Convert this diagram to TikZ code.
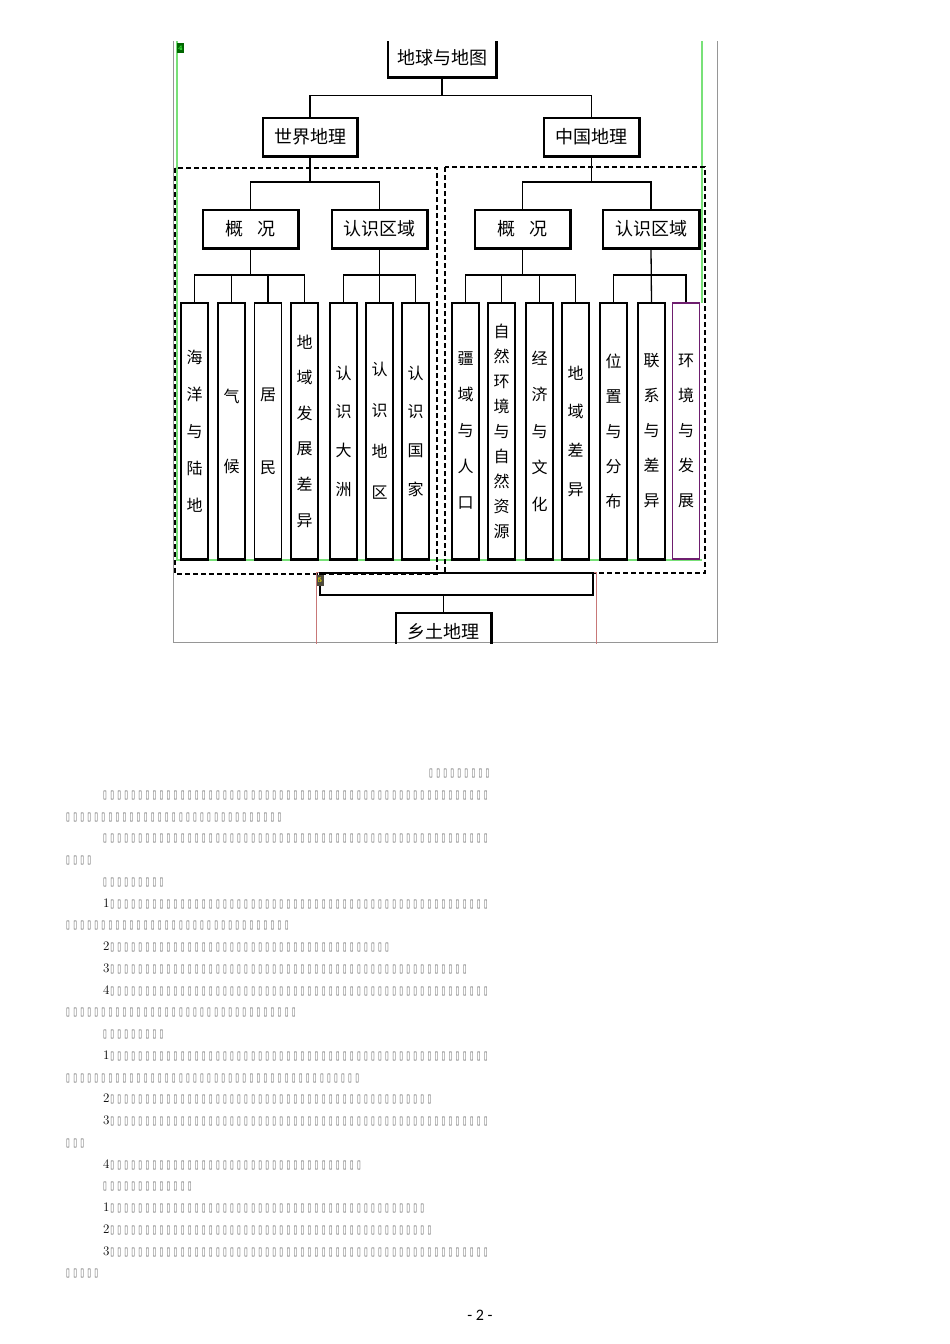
\documentclass[tikz,border=0pt]{standalone}
\usepackage{fontspec}
\usepackage{graphicx}
\newfontfamily\cjk{Noto Sans CJK SC}
\newfontfamily\dejavu{DejaVu Sans}
\newfontfamily\carlito{Carlito}
\usetikzlibrary{calc}
\definecolor{frgreen}{RGB}{120,225,120}
\definecolor{frpink}{RGB}{200,120,120}
\definecolor{frgray}{RGB}{150,150,150}
\definecolor{frpurple}{RGB}{110,30,110}
\definecolor{tofugray}{RGB}{90,90,90}
\newcommand\tofu{\makebox[7.05pt][l]{\resizebox{3.8pt}{7.4pt}{\dejavu\color{tofugray}\char"25AF}}}
\newcommand\tfs[1]{\foreach \tfi in {1,...,#1}{\tofu}}
\newcommand\dg[1]{\makebox[7.05pt][l]{\fontsize{13}{13}\selectfont #1}}
\tikzset{
  hbox/.style={draw, line width=1.2pt, inner sep=0pt, font=\cjk\fontsize{18}{18}\selectfont},
  tbox/.style={draw, line width=1.2pt, inner sep=0pt, minimum width=27pt, minimum height=256pt, align=center, font=\cjk\fontsize{16}{#1}\selectfont},
  conn/.style={line width=1.3pt},
  dbox/.style={line width=1.2pt, dash pattern=on 5pt off 3pt},
  tline/.style={anchor=base west, inner sep=0pt},
}
\begin{document}
\begin{tikzpicture}[x=1pt,y=-1pt]
\useasboundingbox (0,0) rectangle (950,1344);
\begin{scope}
\clip (172,41) rectangle (719,643);
% frames
\draw[frgray, line width=0.8pt] (173,30) -- (173,642) -- (717.5,642) -- (717.5,30);
\draw[frgreen, line width=1.2pt] (177,30) -- (177,560) -- (702,560);
\draw[frgreen, line width=1.2pt] (702,30) -- (702,303);
\draw[dbox] (175,168) rectangle (437,574);
\draw[dbox] (445,167) rectangle (705,573);
\draw[frpink, line width=0.8pt] (596,660) -- (596,572) -- (316,572) -- (316,660);
% top levels
\node[hbox, minimum width=108pt, minimum height=39pt] (top) at (442,57.5) {地球与地图};
\node[hbox, minimum width=94pt, minimum height=38pt] (wg) at (310,137) {世界地理};
\node[hbox, minimum width=95pt, minimum height=38pt] (cg) at (591.5,137) {中国地理};
\node[hbox, minimum width=95pt, minimum height=38pt] (gkl) at (250.5,229) {概\hspace{14pt}况};
\node[hbox, minimum width=95pt, minimum height=38pt] (rsl) at (379.5,229) {认识区域};
\node[hbox, minimum width=95pt, minimum height=38pt] (gkr) at (522.5,229) {概\hspace{14pt}况};
\node[hbox, minimum width=96pt, minimum height=38pt] (rsr) at (651,229) {认识区域};
% tall boxes left
\node[tbox=37] (l1) at (194.5,431) {海\\洋\\与\\陆\\地};
\node[tbox=70] (l2) at (231.5,431) {气\\候};
\node[tbox=73] (l3) at (268,431) {居\\民};
\node[tbox=35.6] (l4) at (304.5,431) {地\\域\\发\\展\\差\\异};
\node[tbox=38.7] (l5) at (343.5,431) {认\\识\\大\\洲};
\node[tbox=41] (l6) at (379.5,431) {认\\识\\地\\区};
\node[tbox=38.7] (l7) at (415.5,431) {认\\识\\国\\家};
% tall boxes right
\node[tbox=36] (r1) at (465.5,431) {疆\\域\\与\\人\\口};
\node[tbox=25] (r2) at (501.5,431) {自\\然\\环\\境\\与\\自\\然\\资\\源};
\node[tbox=36.5] (r3) at (539.5,431) {经\\济\\与\\文\\化};
\node[tbox=38.7] (r4) at (575.5,431) {地\\域\\差\\异};
\node[tbox=35] (r5) at (613.5,431) {位\\置\\与\\分\\布};
\node[tbox=35] (r6) at (651.5,431) {联\\系\\与\\差\\异};
\node[tbox=35, draw=frpurple] (r7) at (686,431) {环\\境\\与\\发\\展};
% shadows
\foreach \b in {top,wg,cg,gkl,rsl,gkr,rsr}
  \draw[line width=2.2pt] (\b.north east) -- (\b.south east) -- (\b.south west);
\foreach \b in {l1,l2,l3,l4,l5,l6,l7,r1,r2,r3,r4,r5,r6}
  \draw[line width=2.2pt] (\b.south east) -- (\b.south west);
% bottom part
\node[draw, line width=1.1pt, minimum width=273pt, minimum height=22pt, inner sep=0pt] (jn) at (456.5,584) {};
\node[hbox, minimum width=95pt, minimum height=38pt] (xt) at (443.5,632) {乡土地理};
\draw[line width=2.2pt] (xt.north east) -- (xt.south east);
\draw[conn] (jn.south -| xt.north) -- (xt.north);
% bar levels
\coordinate (y1) at (0,95.5);
\coordinate (y2) at (0,182);
\coordinate (y3) at (0,275);
\draw[conn] (top.south) -- (top.south |- y1);
\draw[conn] (wg.north) |- (cg.north |- y1) -- (cg.north);
\draw[conn] (wg.south) -- (wg.south |- y2);
\draw[conn] (gkl.north) |- (rsl.north |- y2) -- (rsl.north);
\draw[conn] (cg.south) -- (cg.south |- y2);
\draw[conn] (gkr.north) |- (rsr.north |- y2) -- (rsr.north);
\draw[conn] (gkl.south) -- (gkl.south |- y3);
\draw[conn] (l1.north) |- (l4.north |- y3) -- (l4.north);
\draw[conn] (l2.north) -- (l2.north |- y3);
\draw[conn] (l3.north) -- (l3.north |- y3);
\draw[conn] (rsl.south) -- (l6.north);
\draw[conn] (l5.north) |- (l7.north |- y3) -- (l7.north);
\draw[conn] (gkr.south) -- (gkr.south |- y3);
\draw[conn] (r1.north) |- (r4.north |- y3) -- (r4.north);
\draw[conn] (r2.north) -- (r2.north |- y3);
\draw[conn] (r3.north) -- (r3.north |- y3);
\draw[conn] (rsr.south) -- (r6.north);
\draw[conn] (r5.north) |- (r7.north |- y3) -- (r7.north);
% markers
\node[fill=green!40!black, text=green!70, font=\fontsize{7}{7}\selectfont\bfseries, inner sep=0.8pt, minimum width=6pt, minimum height=10pt] (m4) at (180.5,48) {4};
\node[fill=black!80!yellow, text=yellow, font=\fontsize{7}{7}\selectfont\bfseries, inner sep=0.8pt, minimum width=7pt, minimum height=11pt] (m5) at (320,580) {5};
\end{scope}
% text lines
\foreach \xx/\txt [count=\k from 0] in {
  429/{\tfs{9}}, 103/{\tfs{55}}, 66/{\tfs{31}}, 103/{\tfs{55}}, 66/{\tfs{4}}, 103/{\tfs{9}},
  103/{\dg{1}\tfs{54}}, 66/{\tfs{32}}, 103/{\dg{2}\tfs{40}}, 103/{\dg{3}\tfs{51}}, 103/{\dg{4}\tfs{54}}, 66/{\tfs{33}},
  103/{\tfs{9}}, 103/{\dg{1}\tfs{54}}, 66/{\tfs{42}}, 103/{\dg{2}\tfs{46}}, 103/{\dg{3}\tfs{54}}, 66/{\tfs{3}},
  103/{\dg{4}\tfs{36}}, 103/{\tfs{13}}, 103/{\dg{1}\tfs{45}}, 103/{\dg{2}\tfs{46}}, 103/{\dg{3}\tfs{54}}, 66/{\tfs{5}}}
  { \node[tline] (t\k) at (\xx, {776.6+21.75*\k}) {\txt}; }
\node[anchor=base, inner sep=0pt, font=\carlito\fontsize{16}{16}\selectfont] (pg) at (480,1320) {- 2 -};
\end{tikzpicture}
\end{document}
